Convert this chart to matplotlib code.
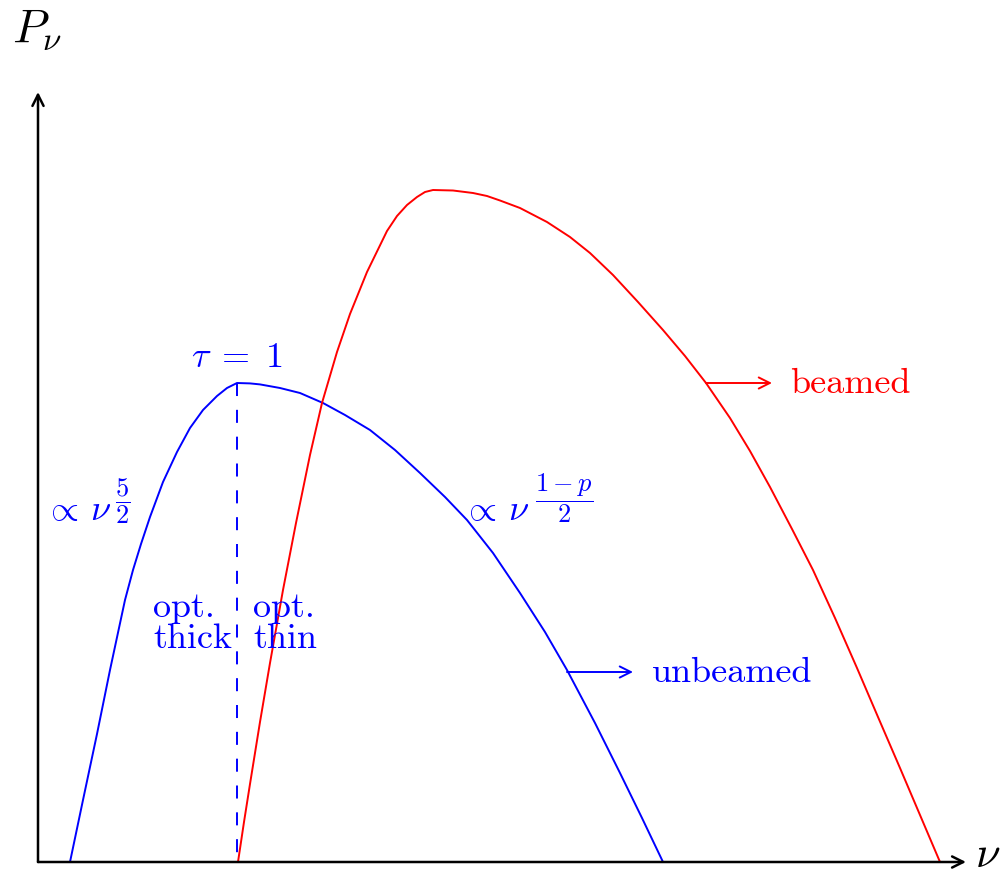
import matplotlib
matplotlib.use("Agg")
import matplotlib.pyplot as plt

plt.rcParams['mathtext.fontset'] = 'cm'
plt.rcParams['font.family'] = 'serif'
plt.rcParams['font.serif'] = ['cmr10', 'DejaVu Serif']
plt.rcParams['axes.formatter.use_mathtext'] = True

# Unbeamed spectrum (arbitrary units; origin at axes corner)
nu_unbeamed = [32, 45, 59, 72, 87, 95, 103, 112, 125, 139, 152, 165, 179, 189,
               199, 212, 222, 242, 262, 285, 307, 332, 357, 382, 407, 429, 455,
               482, 507, 529, 557, 582, 604, 625]
P_unbeamed = [0, 62, 128, 192, 262, 292, 318, 345, 380, 410, 434, 452, 466, 474,
              479, 478.6, 477.6, 474, 469, 459, 447, 432, 412, 389, 365, 342, 309,
              269, 230, 192, 139, 89, 44, 0]

# Beamed spectrum
nu_beamed = [200, 206, 212, 222, 232, 245, 258, 272, 284, 299, 312, 329, 349, 359,
             369, 379, 387, 395, 415, 435, 449, 462, 482, 509, 532, 552, 575, 600,
             625, 647, 668, 692, 712, 732, 754, 775, 797, 819, 840, 862, 882, 902]
P_beamed = [0, 40, 78, 140, 199, 272, 339, 407, 459, 510, 548, 590, 631, 646,
            657, 665, 670, 672, 671.5, 669, 666, 661.5, 654, 640, 625, 609, 587, 560,
            532, 506, 479, 444, 411, 375, 333, 292, 244, 194, 145, 94, 47, 0]

nu_tau1 = 199
P_tau1 = 479

BLUE = (0, 0, 1)
RED = (1, 0, 0)

fig = plt.figure(figsize=(10.06, 8.76), dpi=100)
ax = fig.add_axes([0, 0, 1, 1])
ax.set_xlim(-38, 968)
ax.set_ylim(-14, 862)
ax.axis('off')

# axes arrows
arrow_kw = dict(arrowstyle='->', lw=1.8, color='black', mutation_scale=20,
                shrinkA=0, shrinkB=0)
ax.annotate('', xy=(928, 0), xytext=(0, 0), arrowprops=arrow_kw)
ax.annotate('', xy=(0, 770), xytext=(0, 0), arrowprops=arrow_kw)

ax.text(-26, 819, r'$P_\nu$', fontsize=34, ha='left', va='baseline')
ax.text(937, -5, r'$\nu$', fontsize=32, ha='left', va='baseline')

# curves
ax.plot(nu_unbeamed, P_unbeamed, color=BLUE, lw=1.4, solid_joinstyle='round',
        solid_capstyle='butt')
ax.plot(nu_beamed, P_beamed, color=RED, lw=1.4, solid_joinstyle='round',
        solid_capstyle='butt')

# tau = 1 dashed line
ax.plot([nu_tau1, nu_tau1], [P_tau1, 0], color=BLUE, lw=1.4,
        dashes=(6.7, 7.1))

fs = 26
ax.text(nu_tau1, 495, r'$\tau\;=\;1$', color=BLUE, fontsize=fs, ha='center',
        va='baseline')

ax.text(6, 342, r'$\propto\,\nu$', color=BLUE, fontsize=fs,
        ha='left', va='baseline')
ax.text(85, 361, r'$\dfrac{5}{2}$', color=BLUE, fontsize=19,
        ha='center', va='center')

ax.text(424, 342, r'$\propto\,\nu$', color=BLUE, fontsize=fs,
        ha='left', va='baseline')
ax.text(526, 364, r'$\dfrac{1-p}{2}$', color=BLUE, fontsize=19,
        ha='center', va='center')

ax.text(115, 245, 'opt.', color=BLUE, fontsize=fs, ha='left', va='baseline')
ax.text(115, 214, 'thick', color=BLUE, fontsize=fs, ha='left', va='baseline')
ax.text(215, 245, 'opt.', color=BLUE, fontsize=fs, ha='left', va='baseline')
ax.text(215, 214, 'thin', color=BLUE, fontsize=fs, ha='left', va='baseline')

lab_kw = dict(arrowstyle='->', lw=1.4, mutation_scale=20, shrinkA=0, shrinkB=0)
ax.annotate('', xy=(595, 190), xytext=(529, 190),
            arrowprops=dict(color=BLUE, **lab_kw))
ax.text(614, 180, 'unbeamed', color=BLUE, fontsize=fs, ha='left', va='baseline')

ax.annotate('', xy=(734, 479), xytext=(668, 479),
            arrowprops=dict(color=RED, **lab_kw))
ax.text(752, 469, 'beamed', color=RED, fontsize=fs, ha='left', va='baseline')

fig.savefig('out.png', dpi=100)
